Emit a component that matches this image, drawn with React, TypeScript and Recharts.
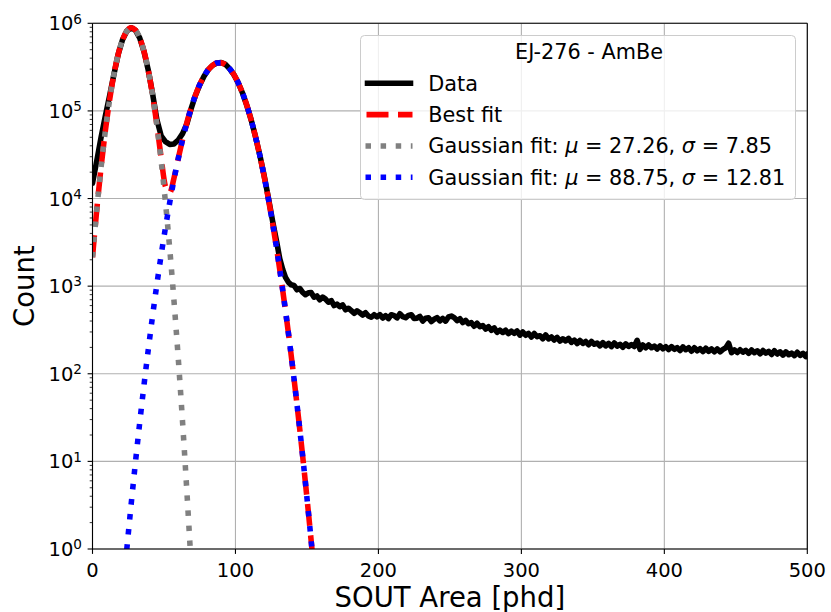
import React from 'react';
import { LineChart, Line, XAxis, YAxis, CartesianGrid, ReferenceLine } from 'recharts';

const FONT = '"DejaVu Sans", "Liberation Sans", sans-serif';

// ---------- axis ticks ----------
const xTicks = [0, 100, 200, 300, 400, 500];
const yMajorTicks = [1, 10, 100, 1000, 10000, 100000, 1000000];
const yMinorMultipliers = [2, 3, 4, 5, 6, 7, 8, 9];
const yMinorTicks = yMajorTicks.slice(0, -1).flatMap((d) => yMinorMultipliers.map((m) => m * d));
const yTicks = [...yMajorTicks, ...yMinorTicks].sort((a, b) => a - b);

// ---------- legend labels ----------
const legendTitle = 'EJ-276 - AmBe';
const seriesNames = ['Data', 'Best fit'];
const gaussianParams = [
  { mu: '27.26', sigma: '7.85' },
  { mu: '88.75', sigma: '12.81' },
];

// ---------- measured spectrum (x [phd], count) ----------
const measuredPeaks: [number, number][] = [
  [0, 15000], [3, 27000], [6, 50000], [9, 88000], [12, 150000], [15, 262000], [18, 445000],
  [21, 648000], [24, 816000], [27, 889000], [30, 836000], [33, 681000], [36, 479000], [39, 292000],
  [42, 158000], [45, 80000], [48, 52000], [51, 44500], [54, 41500], [57, 42000], [60, 46500],
  [63, 55000], [66, 71000], [69, 106000], [72, 150000], [75, 198000], [78, 249000], [81, 296000],
  [84, 331000], [87, 352000], [90, 357000], [93, 340000], [96, 302000], [99, 258000], [102, 208000],
  [105, 159000], [108, 115000], [111, 79000], [114, 51000], [117, 31500], [120, 18500], [123, 10300],
  [126, 5500], [129, 3100],
];

const measuredShoulder: [number, number][] = [
  [131, 2050], [133, 1560], [135, 1260], [137, 1110], [139, 1035], [141, 1019], [143, 907],
  [145, 940], [147, 848], [149, 798], [151, 839], [153, 843], [155, 749], [157, 773], [159, 700],
  [161, 751], [163, 712], [165, 655], [167, 685], [169, 600], [171, 624], [173, 582], [175, 611],
  [177, 538], [179, 560], [181, 525], [183, 490], [185, 523], [187, 497], [189, 468], [191, 497],
  [193, 456], [195, 441], [197, 472], [199, 446],
];

const measuredTailA: [number, number][] = [
  [201, 473], [203, 433], [205, 461], [207, 426], [209, 472], [211, 461], [213, 434], [215, 485],
  [217, 448], [219, 436], [221, 464], [223, 472], [225, 427], [227, 431], [229, 452], [231, 400],
  [233, 430], [235, 435], [237, 395], [239, 419], [241, 437], [243, 401], [245, 428], [247, 399],
  [249, 445], [251, 456], [253, 437], [255, 404], [257, 425], [259, 384], [261, 407], [263, 372],
  [265, 383], [267, 349], [269, 377], [271, 345], [273, 355], [275, 324], [277, 344], [279, 314],
  [281, 334], [283, 297], [285, 314], [287, 296], [289, 314], [291, 287], [293, 306], [295, 289],
  [297, 308], [299, 276],
];

const measuredTailB: [number, number][] = [
  [301, 300], [303, 275], [305, 289], [307, 263], [309, 288], [311, 265], [313, 272], [315, 251],
  [317, 277], [319, 250], [321, 263], [323, 243], [325, 260], [327, 236], [329, 251], [331, 237],
  [333, 253], [335, 228], [337, 242], [339, 221], [341, 240], [343, 222], [345, 234], [347, 214],
  [349, 234], [351, 217], [353, 224], [355, 208], [357, 227], [359, 208], [361, 222], [363, 204],
  [365, 225], [367, 207], [369, 217], [371, 201], [373, 219], [375, 205], [377, 216], [379, 205],
  [381, 241], [383, 190], [385, 213], [387, 198], [389, 213], [391, 198], [393, 207], [395, 192],
  [397, 208], [399, 193],
];

const measuredTailC: [number, number][] = [
  [401, 204], [403, 189], [405, 204], [407, 190], [409, 199], [411, 184], [413, 203], [415, 188],
  [417, 198], [419, 181], [421, 198], [423, 183], [425, 193], [427, 179], [429, 196], [431, 180],
  [433, 192], [435, 178], [437, 192], [439, 178], [441, 190], [443, 198], [445, 223], [447, 174],
  [449, 187], [451, 175], [453, 188], [455, 176], [457, 185], [459, 171], [461, 187], [463, 174],
  [465, 183], [467, 169], [469, 184], [471, 172], [473, 180], [475, 166], [477, 183], [479, 168],
  [481, 178], [483, 163], [485, 178], [487, 165], [489, 172], [491, 161], [493, 176], [495, 162],
  [497, 171], [499, 157], [500, 168],
];

// ---------- fitted curves (x, count) ----------
const bestFit: [number, number][] = [
  [0, 2138], [3, 7500], [6, 22700], [9, 59400], [12, 134300], [15, 262400], [18, 443600],
  [21, 647100], [24, 815700], [27, 889000], [30, 836500], [33, 680800], [36, 478700], [39, 290600],
  [42, 152900], [45, 70240], [48, 29350], [51, 13790], [54, 11640], [57, 17120], [60, 28730],
  [63, 47110], [66, 73290], [69, 108100], [72, 151000], [75, 199500], [78, 249500], [81, 295400],
  [84, 331100], [87, 351600], [90, 353200], [93, 335700], [96, 302000], [99, 257600], [102, 208000],
  [105, 158800], [108, 114800], [111, 78500], [114, 50800], [117, 31190], [120, 18110], [123, 9950],
  [126, 5176], [129, 2547], [132, 1189], [135, 524], [138, 219], [141, 86.5], [144, 32.4],
  [147, 11.5], [150, 3.85], [153, 1.22], [156, 0.37],
];

const gaussian1: [number, number][] = [
  [0, 2138], [3, 7500], [6, 22700], [9, 59400], [12, 134300], [15, 262400], [18, 443600],
  [21, 647100], [24, 815700], [27, 889000], [30, 836500], [33, 680800], [36, 478600], [39, 290400],
  [42, 152400], [45, 69200], [48, 27100], [51, 9180], [54, 2690], [57, 679], [60, 149],
  [63, 28.1], [66, 4.57], [69, 0.645], [72, 0.0785],
];

const gaussian2: [number, number][] = [
  [21, 0.3], [24, 1.0], [27, 3.19], [30, 9.6], [33, 27.4], [36, 73.8], [39, 188], [42, 455],
  [45, 1040], [48, 2254], [51, 4613], [54, 8954], [57, 16440], [60, 28580], [63, 47080],
  [66, 73280], [69, 108100], [72, 151000], [75, 199500], [78, 249500], [81, 295400], [84, 331100],
  [87, 351600], [90, 353200], [93, 335700], [96, 302000], [99, 257600], [102, 208000],
  [105, 158800], [108, 114800], [111, 78500], [114, 50800], [117, 31190], [120, 18110],
  [123, 9950], [126, 5176], [129, 2547], [132, 1189], [135, 524], [138, 219], [141, 86.5],
  [144, 32.4], [147, 11.5], [150, 3.85], [153, 1.22], [156, 0.37],
];

const toRows = (pts: [number, number][]) => pts.map(([x, y]) => ({ x, y }));
const measuredRows = toRows([
  ...measuredPeaks,
  ...measuredShoulder,
  ...measuredTailA,
  ...measuredTailB,
  ...measuredTailC,
]);
const bestFitRows = toRows(bestFit);
const gaussian1Rows = toRows(gaussian1);
const gaussian2Rows = toRows(gaussian2);

// ---------- styling ----------
const LW = 5.56;
const Y_TICK_SIZE = 5;
const Y_TICK_MARGIN = 5;

function YTick(props: any) {
  const { x, y, payload } = props;
  const v = payload.value as number;
  const e = Math.round(Math.log10(v));
  const major = Math.abs(v / Math.pow(10, e) - 1) < 1e-9;
  const ax = x + Y_TICK_SIZE + Y_TICK_MARGIN;
  return (
    <g>
      <line
        x1={ax}
        x2={ax - (major ? 4.9 : 2.8)}
        y1={y}
        y2={y}
        stroke="#000"
        strokeWidth={major ? 1.1 : 0.8}
      />
      {major && (
        <text x={ax - 10.5} y={y + 7.1} textAnchor="end" fontFamily={FONT} fontSize={19.5} fill="#000">
          10
          <tspan dy={-6.9} fontSize={13.6}>
            {e}
          </tspan>
        </text>
      )}
    </g>
  );
}

function XLabel(props: any) {
  const vb = props.viewBox || {};
  return (
    <text
      x={vb.x + vb.width / 2}
      y={vb.y + vb.height - 5.3}
      textAnchor="middle"
      fontFamily={FONT}
      fontSize={27.5}
      fill="#000"
    >
      SOUT Area [phd]
    </text>
  );
}

function YLabel(props: any) {
  const vb = props.viewBox || {};
  const cx = vb.x + 21.5;
  const cy = vb.y + vb.height / 2;
  return (
    <text
      x={cx}
      y={cy}
      transform={`rotate(-90, ${cx}, ${cy})`}
      textAnchor="middle"
      fontFamily={FONT}
      fontSize={27.5}
      fill="#000"
    >
      Count
    </text>
  );
}

function LegendBox() {
  const rowY = [83.3, 114.6, 146, 177.3];
  const textX = 428.3;
  const hx1 = 367.5;
  const hx2 = 410.5;
  return (
    <svg
      width={831}
      height={612}
      style={{ position: 'absolute', left: 0, top: 0, pointerEvents: 'none' }}
    >
      <rect
        x={360.5}
        y={35.5}
        width={435}
        height={164}
        rx={4}
        ry={4}
        fill="#ffffff"
        fillOpacity={0.8}
        stroke="#cccccc"
        strokeWidth={1}
      />
      <text x={515} y={59.3} fontFamily={FONT} fontSize={20.8} fill="#000">
        {legendTitle}
      </text>
      <line x1={hx1} x2={hx2} y1={rowY[0]} y2={rowY[0]} stroke="#000" strokeWidth={LW} strokeLinecap="square" />
      <line x1={hx1 - 1} x2={hx2 + 2} y1={rowY[1]} y2={rowY[1]} stroke="#ff0000" strokeWidth={LW} strokeDasharray="22 9.5" />
      <line x1={hx1 - 2} x2={hx2 + 2} y1={rowY[2]} y2={rowY[2]} stroke="#808080" strokeWidth={LW} strokeDasharray="5.5 9.6" />
      <line x1={hx1 - 2} x2={hx2 + 2} y1={rowY[3]} y2={rowY[3]} stroke="#0000ff" strokeWidth={LW} strokeDasharray="5.5 9.6" />
      <text x={textX} y={rowY[0] + 7.4} fontFamily={FONT} fontSize={20.8} fill="#000">
        {seriesNames[0]}
      </text>
      <text x={textX} y={rowY[1] + 7.4} fontFamily={FONT} fontSize={20.8} fill="#000">
        {seriesNames[1]}
      </text>
      {gaussianParams.map((g, i) => (
        <text key={i} x={textX} y={rowY[2 + i] + 7.4} fontFamily={FONT} fontSize={20.8} fill="#000" xmlSpace="preserve">
          {'Gaussian fit: '}
          <tspan fontStyle="italic">μ</tspan>
          {` = ${g.mu}, `}
          <tspan fontStyle="italic">σ</tspan>
          {` = ${g.sigma}`}
        </text>
      ))}
    </svg>
  );
}

export default function App() {
  return (
    <div style={{ position: 'absolute', left: 0, top: 0, width: 831, height: 612, background: '#fff' }}>
      <LineChart width={831} height={612} margin={{ top: 23.3, right: 23.7, bottom: 0, left: 12.5 }}>
        <CartesianGrid
          stroke="#b0b0b0"
          strokeWidth={1.1}
          horizontalValues={yMajorTicks}
          verticalValues={xTicks}
        />
        <XAxis
          type="number"
          dataKey="x"
          domain={[0, 500]}
          ticks={xTicks}
          allowDataOverflow
          height={63}
          tickSize={4.9}
          tickMargin={9}
          interval={0}
          tick={{ fill: '#000', fontSize: 19.5, fontFamily: FONT }}
          axisLine={{ stroke: '#000', strokeWidth: 1.1 }}
          tickLine={{ stroke: '#000', strokeWidth: 1.1 }}
          label={{ content: XLabel } as any}
        />
        <YAxis
          type="number"
          scale="log"
          domain={[1, 1000000]}
          ticks={yTicks}
          allowDataOverflow
          width={80}
          tickSize={Y_TICK_SIZE}
          tickMargin={Y_TICK_MARGIN}
          interval={0}
          tick={<YTick />}
          tickLine={false}
          axisLine={{ stroke: '#000', strokeWidth: 1.1 }}
          label={{ content: YLabel } as any}
        />
        <Line
          data={measuredRows}
          dataKey="y"
          type="linear"
          stroke="#000"
          strokeWidth={LW}
          strokeLinejoin="round"
          strokeLinecap="round"
          dot={false}
          activeDot={false}
          isAnimationActive={false}
        />
        <Line
          data={bestFitRows}
          dataKey="y"
          type="monotone"
          stroke="#ff0000"
          strokeWidth={LW}
          strokeDasharray="22 9.5"
          dot={false}
          activeDot={false}
          isAnimationActive={false}
        />
        <Line
          data={gaussian1Rows}
          dataKey="y"
          type="monotone"
          stroke="#808080"
          strokeWidth={LW}
          strokeDasharray="5.5 9.6"
          dot={false}
          activeDot={false}
          isAnimationActive={false}
        />
        <Line
          data={gaussian2Rows}
          dataKey="y"
          type="monotone"
          stroke="#0000ff"
          strokeWidth={LW}
          strokeDasharray="5.5 9.6"
          dot={false}
          activeDot={false}
          isAnimationActive={false}
        />
        <ReferenceLine y={1000000} stroke="#000" strokeWidth={1.1} />
        <ReferenceLine x={500} stroke="#000" strokeWidth={1.1} />
      </LineChart>
      <LegendBox />
    </div>
  );
}
